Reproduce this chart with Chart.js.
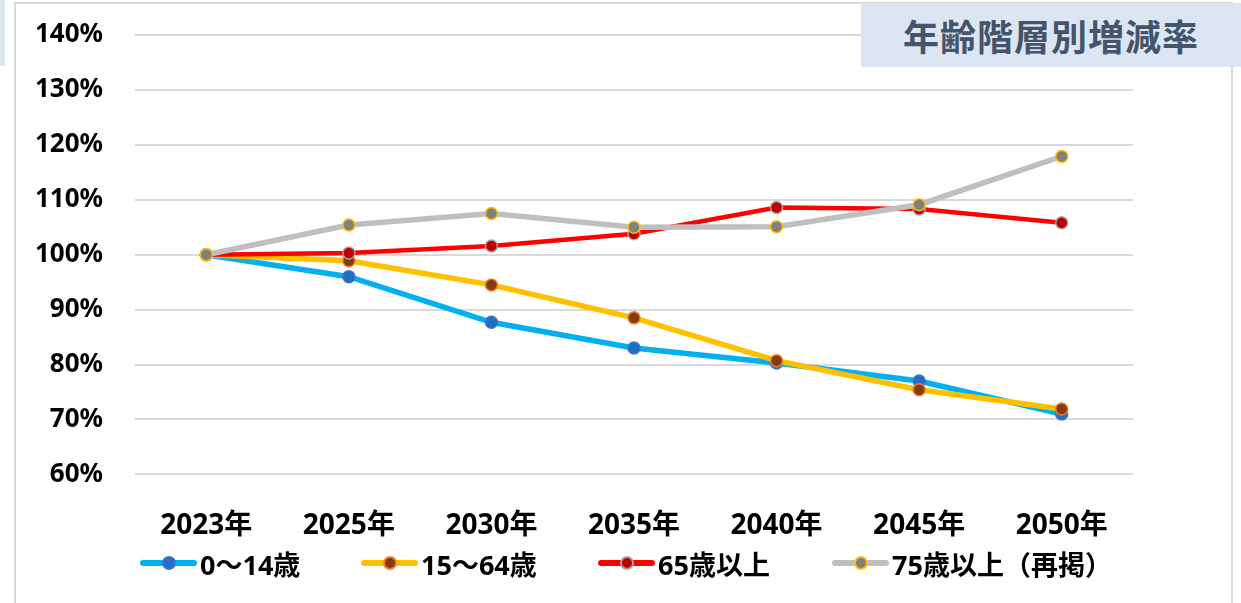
<!DOCTYPE html>
<html lang="ja">
<head>
<meta charset="utf-8">
<title>年齢階層別増減率</title>
<script src="https://cdn.jsdelivr.net/npm/chart.js@4.4.1/dist/chart.umd.min.js"></script>
<style>
    html, body { margin: 0; padding: 0; background: #fff; }
    #wrap { position: relative; width: 1241px; height: 603px; overflow: hidden; }
    #marco { position: absolute; left: 14px; top: 2px; width: 1219px; height: 640px; border: 2px solid #d9d9d9; box-sizing: border-box; }
    #franja { position: absolute; left: 0; top: 0; width: 5px; height: 66px; background: #dce6f2; }
    #grafico { position: absolute; left: 0; top: 0; }
    #titulo {
        position: absolute; left: 861px; top: 3px; width: 380px; height: 64px;
        background: #dce6f2; color: #44546a;
        font: bold 36px "Noto Sans CJK JP", sans-serif;
        display: flex; align-items: center; justify-content: center; letter-spacing: 1px;
        box-sizing: border-box;
    }
    .leyenda { position: absolute; top: 548px; height: 30px; display: flex; align-items: center;
        font: bold 27px "Noto Sans", "Noto Sans CJK JP", sans-serif; color: #000; white-space: nowrap; }
    .muestra { position: relative; width: 57px; height: 6px; border-radius: 3px; margin-right: 3px; }
    .muestra span { position: absolute; left: 22px; top: -4px; width: 10px; height: 10px; border-radius: 50%; border: 2px solid; }
</style>
</head>
<body>
<div id="wrap">
    <div id="franja"></div>
    <div id="marco"></div>
    <canvas id="grafico" width="1241" height="603"></canvas>
    <div id="titulo">年齢階層別増減率</div>
</div>
<script>
// 年齢階層別の増減率（2023年 = 100%）
const anos = ['2023年', '2025年', '2030年', '2035年', '2040年', '2045年', '2050年'];
const nombres = ['0～14歳', '15～64歳', '65歳以上', '75歳以上（再掲）'];
const edad0a14 = [100, 96.0, 87.7, 83.0, 80.3, 77.0, 71.0];
const edad15a64 = [100, 98.9, 94.5, 88.5, 80.7, 75.4, 71.9];
const edad65 = [100, 100.3, 101.6, 103.8, 108.6, 108.3, 105.8];
const edad75 = [100, 105.4, 107.5, 105.0, 105.1, 109.1, 117.9];
const ticksY = [60, 70, 80, 90, 100, 110, 120, 130, 140];

// line colour, marker fill, marker border
const estilos = [
    { linea: '#00b0f0', relleno: '#1f6fc5', borde: '#4472c4', ancho: 5.5 },
    { linea: '#ffc000', relleno: '#843c0c', borde: '#ed7d31', ancho: 5.5 },
    { linea: '#ff0000', relleno: '#c00000', borde: '#a5a5a5', ancho: 4.5 },
    { linea: '#bfbfbf', relleno: '#808080', borde: '#ffc000', ancho: 5.5 }
];
const series = [edad0a14, edad15a64, edad65, edad75];
const posLeyenda = [140, 361, 598, 832];

const datasets = series.map((valores, i) => ({
    label: nombres[i],
    data: valores,
    borderColor: estilos[i].linea,
    borderWidth: estilos[i].ancho,
    backgroundColor: estilos[i].relleno,
    pointBackgroundColor: estilos[i].relleno,
    pointBorderColor: estilos[i].borde,
    pointBorderWidth: 1.5,
    pointRadius: 6,
    tension: 0,
    order: series.length - i   // later series are drawn on top
}));

new Chart(document.getElementById('grafico'), {
    type: 'line',
    data: { labels: anos, datasets: datasets },
    options: {
        responsive: false,
        animation: false,
        devicePixelRatio: 1,
        layout: { padding: { left: 0, right: 108, top: 35, bottom: 33 } },
        plugins: {
            legend: { display: false },
            tooltip: { enabled: false }
        },
        scales: {
            x: {
                offset: true,
                grid: { display: false },
                border: { display: false },
                ticks: {
                    color: '#000',
                    padding: 27,
                    maxRotation: 0,
                    font: { family: '"Noto Sans", "Noto Sans CJK JP"', size: 28, weight: 'bold' }
                }
            },
            y: {
                min: 60,
                max: 140,
                afterFit: (scale) => {
                    scale.width = 135;
                    scale.paddingTop = 0;
                    scale.paddingBottom = 0;
                },
                afterBuildTicks: (scale) => { scale.ticks = ticksY.map(v => ({ value: v })); },
                grid: { color: '#d9d9d9', lineWidth: 2, drawTicks: false },
                border: { display: false },
                ticks: {
                    color: '#000',
                    padding: 32,
                    font: { family: '"Noto Sans", "Noto Sans CJK JP"', size: 26, weight: 'bold' },
                    callback: (v) => v + '%'
                }
            }
        }
    }
});

// Leyenda
const wrap = document.getElementById('wrap');
nombres.forEach((nombre, i) => {
    const item = document.createElement('div');
    item.className = 'leyenda';
    item.style.left = posLeyenda[i] + 'px';
    item.innerHTML = `<div class="muestra" style="background:${estilos[i].linea}">
        <span style="background:${estilos[i].relleno}; border-color:${estilos[i].borde}"></span></div>${nombre}`;
    wrap.appendChild(item);
});
</script>
</body>
</html>
